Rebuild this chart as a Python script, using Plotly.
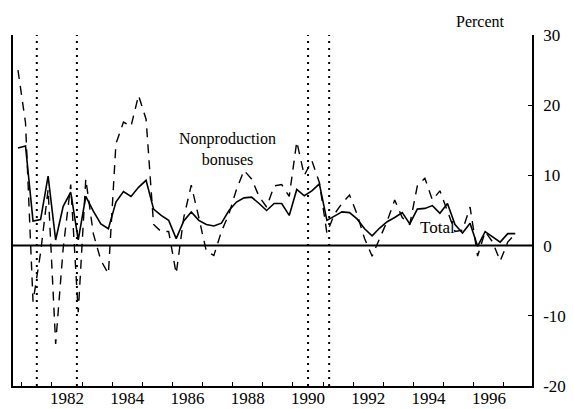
import plotly.graph_objects as go

# Quarterly data, 1980Q4 .. 1997Q2 (plotted at mid-quarter)
start_year = 1980
start_quarter = 4
n_points = 67

total = [13.9, 14.2, 3.5, 3.7, 9.9, 0.8, 5.6, 7.6, 0.8, 7.0,
         4.9, 3.1, 2.4, 6.2, 7.7, 7.0, 8.3, 9.3, 5.2, 4.3,
         3.6, 1.0, 3.5, 4.8, 3.6, 3.0, 2.8, 3.2, 5.0, 6.2,
         6.8, 6.9, 6.0, 5.0, 6.0, 6.0, 4.3, 8.0, 7.1, 7.8,
         8.8, 3.6, 4.2, 4.8, 4.7, 3.8, 2.4, 1.4, 2.5, 3.4,
         4.0, 4.7, 3.1, 5.2, 5.3, 5.7, 4.6, 6.0, 3.0, 1.8,
         3.2, -0.1, 2.0, 1.2, 0.5, 1.7, 1.7]

bonuses = [25.0, 17.5, -8.0, -1.0, 8.0, -14.0, -0.4, 8.7, -9.5, 9.5,
           1.7, -2.1, -4.0, 14.5, 17.6, 17.0, 21.4, 18.0, 3.0, 2.0,
           2.0, -4.0, 4.0, 8.6, 4.0, -0.8, -1.4, 2.0, 4.5, 8.0,
           10.7, 9.5, 7.0, 5.5, 8.5, 8.7, 7.0, 14.8, 10.0, 12.1,
           9.0, 1.8, 4.5, 6.0, 7.2, 4.5, 1.0, -1.5, 1.0, 3.5,
           6.5, 4.0, 3.0, 8.5, 9.6, 6.5, 7.8, 5.0, 2.0, 2.2,
           5.5, -1.5, 2.0, 0.5, -2.2, 0.5, 1.7]

recession_dates = [1981.5, 1982.83, 1990.5, 1991.2]
year_labels = [1982, 1984, 1986, 1988, 1990, 1992, 1994, 1996]
year_bounds = list(range(1981, 1998))
y_ticks = [-20, -10, 0, 10, 20, 30]
y_tick_text = ["-20", "-10", "0", "10", "20", "30"]

x = [start_year + (start_quarter - 1) / 4 + i / 4 + 0.125 for i in range(n_points)]

FONT = "Liberation Serif, Times New Roman, serif"

fig = go.Figure()
fig.add_trace(go.Scatter(x=x, y=bonuses, mode="lines", name="Nonproduction bonuses",
                         line=dict(color="black", width=1.4, dash="9px,7px")))
fig.add_trace(go.Scatter(x=x, y=total, mode="lines", name="Total",
                         line=dict(color="black", width=1.6)))

for d in recession_dates:
    fig.add_shape(type="line", x0=d, x1=d, xref="x", yref="paper", y0=0, y1=1,
                  line=dict(color="black", width=2, dash="2px,5px"))

fig.add_shape(type="line", xref="paper", x0=0, x1=1, yref="y", y0=0, y1=0,
              line=dict(color="black", width=2))

fig.add_annotation(x=1987.84, y=13.8, text="Nonproduction<br>bonuses", showarrow=False,
                   font=dict(family=FONT, size=16, color="black"))
fig.add_annotation(x=1994.78, y=2.6, text="Total", showarrow=False,
                   font=dict(family=FONT, size=17, color="black"))
fig.add_annotation(xref="paper", yref="paper", x=0.952, y=1.068, text="Percent",
                   showarrow=False, font=dict(family=FONT, size=16, color="black"))

fig.update_layout(
    template="none",
    width=573, height=409,
    margin=dict(l=13, r=41, t=35, b=23, autoexpand=False),
    paper_bgcolor="white", plot_bgcolor="white",
    showlegend=False,
    font=dict(family=FONT, size=17, color="black"),
    xaxis=dict(range=[1980.71, 1997.93], showgrid=False, zeroline=False, automargin=False,
               showline=True, linecolor="black", linewidth=1.5,
               tickmode="array", tickvals=[y + 0.5 for y in year_labels],
               ticktext=[str(y) for y in year_labels], ticks="",
               ticklabelstandoff=-4,
               minor=dict(tickmode="array", tickvals=year_bounds, ticks="inside",
                          ticklen=4, tickcolor="black", tickwidth=1, showgrid=False)),
    yaxis=dict(range=[-20, 30], side="right", showgrid=False, zeroline=False, automargin=False,
               showline=True, mirror=True, linecolor="black", linewidth=1.5,
               tickmode="array", tickvals=y_ticks, ticktext=y_tick_text,
               ticks="inside", ticklen=4, tickcolor="black", ticklabelstandoff=6),
)

fig.write_html("out.html", config={"displayModeBar": False},
               post_script="document.body.style.margin='0';document.body.style.padding='0';")
